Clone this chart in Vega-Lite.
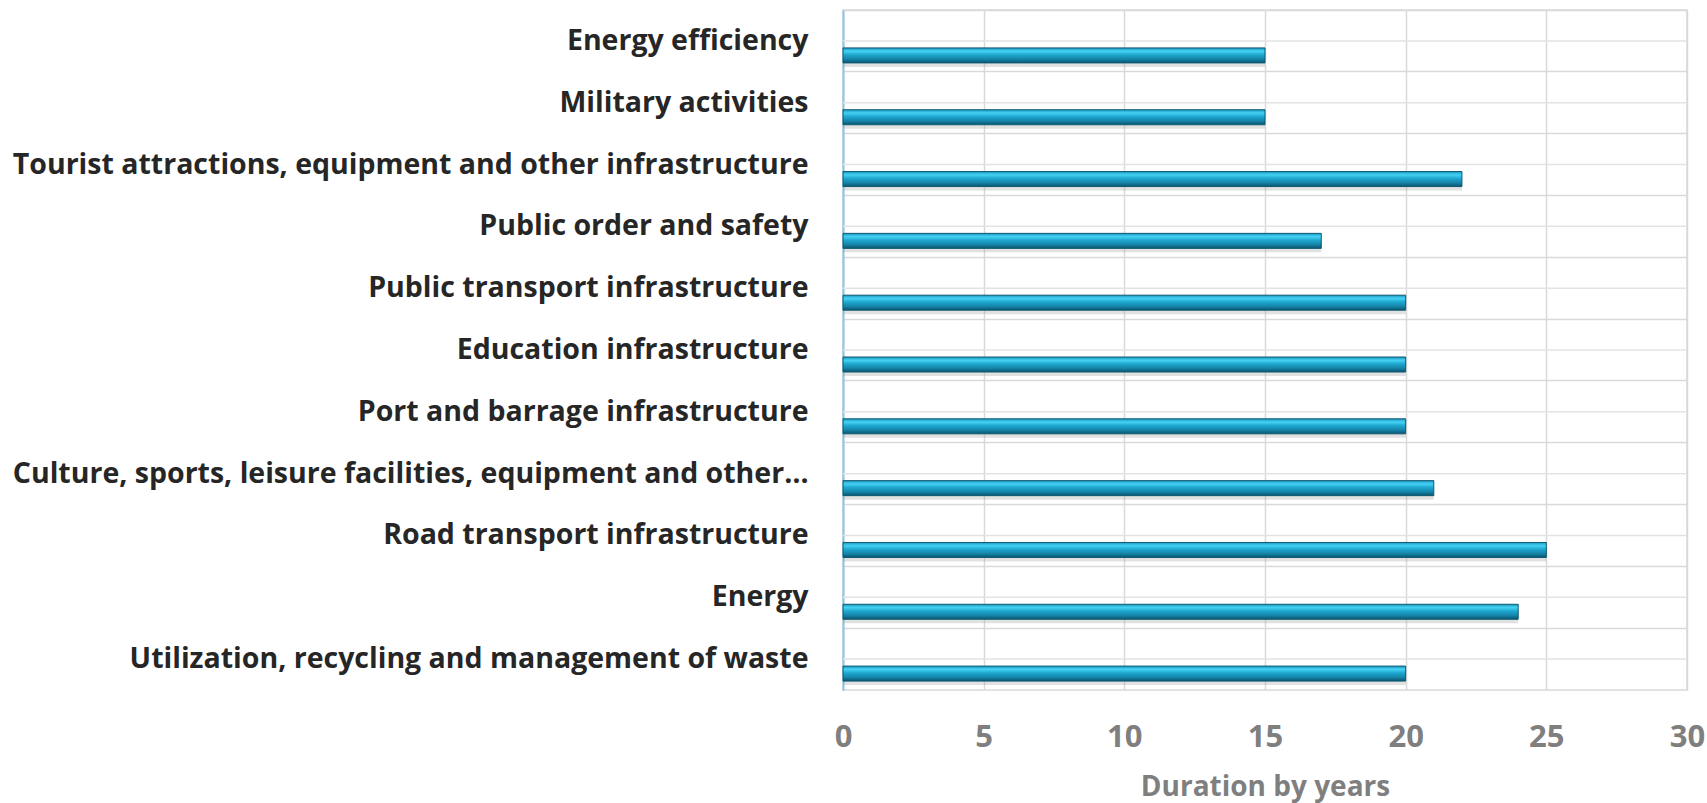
{
  "$schema": "https://vega.github.io/schema/vega-lite/v6.json",
  "autosize": {"type": "none"},
  "width": 844,
  "height": 680,
  "padding": {"left": 843, "top": 10, "right": 20, "bottom": 113},
  "background": "white",
  "config": {
    "view": {"stroke": "#d9d9d9", "strokeWidth": 1.5},
    "font": "Open Sans"
  },
  "data": {
    "values": [
      {"Category": "Energy efficiency", "Years": 15},
      {"Category": "Military activities", "Years": 15},
      {"Category": "Tourist attractions, equipment and other infrastructure", "Years": 22},
      {"Category": "Public order and safety", "Years": 17},
      {"Category": "Public transport infrastructure", "Years": 20},
      {"Category": "Education infrastructure", "Years": 20},
      {"Category": "Port and barrage infrastructure", "Years": 20},
      {"Category": "Culture, sports, leisure facilities, equipment and other…", "Years": 21},
      {"Category": "Road transport infrastructure", "Years": 25},
      {"Category": "Energy", "Years": 24},
      {"Category": "Utilization, recycling and management of waste", "Years": 20}
    ]
  },
  "encoding": {
    "y": {
      "field": "Category",
      "type": "nominal",
      "sort": null,
      "scale": {"paddingInner": 0, "paddingOuter": 0},
      "axis": {
        "title": null,
        "labelFont": "Open Sans",
        "labelFontWeight": "bold",
        "labelFontSize": 28.5,
        "labelColor": "#262626",
        "labelLimit": 1000,
        "labelPadding": 35,
        "ticks": false,
        "domain": true,
        "domainColor": "#8cc6e8",
        "domainWidth": 2,
        "grid": true,
        "gridColor": "#d9d9d9",
        "gridWidth": 1.5,
        "bandPosition": 0
      }
    }
  },
  "layer": [
    {
      "mark": {"type": "rule", "color": "#e3e3e3", "strokeWidth": 1.5},
      "encoding": {}
    },
    {
      "mark": {"type": "bar", "height": 8, "yOffset": 22, "color": "#9a9a9a", "opacity": 0.3},
      "encoding": {
        "x": {"field": "Years", "type": "quantitative"}
      }
    },
    {
      "mark": {
        "type": "bar",
        "height": 15,
        "yOffset": 14.5,
        "stroke": "#0d5a72",
        "strokeWidth": 1,
        "color": {
          "gradient": "linear",
          "x1": 0, "y1": 0, "x2": 0, "y2": 1,
          "stops": [
            {"offset": 0, "color": "#1a98c0"},
            {"offset": 0.22, "color": "#45d2f4"},
            {"offset": 0.45, "color": "#1fa8d0"},
            {"offset": 0.75, "color": "#1584a8"},
            {"offset": 1, "color": "#0a556e"}
          ]
        }
      },
      "encoding": {
        "x": {
          "field": "Years",
          "type": "quantitative",
          "scale": {"domain": [0, 30], "nice": false},
          "axis": {
            "values": [0, 5, 10, 15, 20, 25, 30],
            "title": "Duration by years",
            "titleFont": "Open Sans",
            "titleFontSize": 28,
            "titleFontWeight": "bold",
            "titleColor": "#7f7f7f",
            "titlePadding": 21,
            "labelFont": "Open Sans",
            "labelFontSize": 31,
            "labelFontWeight": "bold",
            "labelColor": "#7f7f7f",
            "labelPadding": 32,
            "labelFlush": false,
            "labelOverlap": false,
            "ticks": false,
            "domain": false,
            "grid": true,
            "gridColor": "#d9d9d9",
            "gridWidth": 1.5
          }
        }
      }
    }
  ]
}
